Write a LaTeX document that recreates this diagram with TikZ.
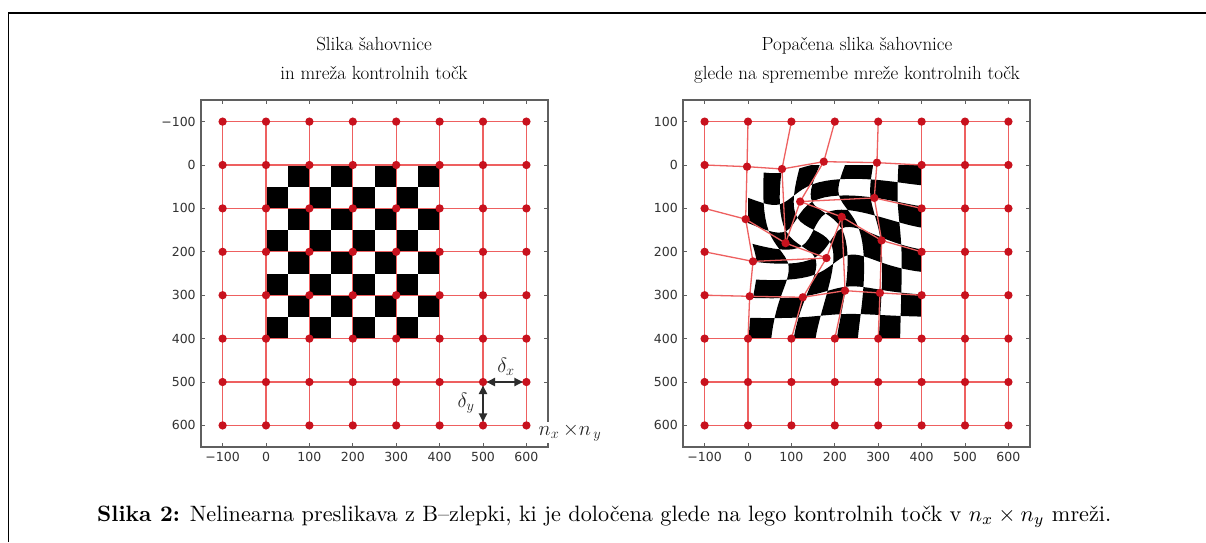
\documentclass[tikz,border=0pt]{standalone}
\usepackage{fontspec}
\newfontfamily\tickfont{DejaVu Sans}
\usetikzlibrary{arrows.meta}
\definecolor{gridred}{RGB}{238,96,96}
\definecolor{dotred}{RGB}{200,18,30}
\definecolor{axgray}{RGB}{95,95,95}
\definecolor{labgray}{RGB}{50,50,50}
\definecolor{arrgray}{RGB}{45,45,45}

\def\WT#1#2{\csname w@#1@#2\endcsname}
\def\BC#1{\csname bc@#1\endcsname}
\def\TT#1#2#3#4#5{+\WT{#2}{#4}*\WT{#3}{#5}*(\csname #1@\the\numexpr\BC{#2}+#4\relax @\the\numexpr\BC{#3}+#5\relax\endcsname)}
\def\DSrow#1#2#3#4{\TT{#1}{#2}{#3}{#4}0\TT{#1}{#2}{#3}{#4}1\TT{#1}{#2}{#3}{#4}2\TT{#1}{#2}{#3}{#4}3}
\def\DS#1#2#3{\DSrow{#1}{#2}{#3}0\DSrow{#1}{#2}{#3}1\DSrow{#1}{#2}{#3}2\DSrow{#1}{#2}{#3}3}
\def\setphi#1#2#3#4{\expandafter\gdef\csname px@#1@#2\endcsname{#3}\expandafter\gdef\csname py@#1@#2\endcsname{#4}}
\def\amp{1.4}

\begin{document}
\begin{tikzpicture}[x=1pt,y=-1pt,
  gridline/.style={draw=gridred, line width=1.3pt},
  dot/.style={circle, fill=dotred, inner sep=0pt, minimum size=8.3pt},
  axframe/.style={draw=axgray, line width=1.4pt},
  tickmark/.style={draw=axgray, line width=0.8pt},
  ticklabel/.style={font=\tickfont\fontsize{12.5}{14}\selectfont, text=labgray, inner sep=1pt},
  titletext/.style={font=\fontsize{19}{23}\selectfont, text=black, inner sep=0pt, anchor=base},
  deltaarrow/.style={draw=arrgray, line width=2pt, arrows={Triangle[length=8.5pt,width=8pt]-Triangle[length=8.5pt,width=8pt]}, shorten <=3.5pt, shorten >=3.5pt},
  mathlabel/.style={font=\fontsize{20}{24}\selectfont, text=black!85, inner sep=1pt},
]
\useasboundingbox (0,0) rectangle (1206,542);
\fill[white] (0,0) rectangle (1206,542);

% ---------- control point displacements ----------
\foreach \i in {0,...,7}{\foreach \j in {0,...,7}{%
  \expandafter\gdef\csname px@\i @\j\endcsname{0}%
  \expandafter\gdef\csname py@\i @\j\endcsname{0}}}
\setphi{1}{1}{-2.3}{3.8}
\setphi{2}{1}{-21.7}{9.2}
\setphi{3}{1}{-25.4}{-7.7}
\setphi{4}{1}{-2.9}{-5.4}
\setphi{1}{2}{-5.4}{24.8}
\setphi{2}{2}{-13.5}{80.0}
\setphi{3}{2}{-79.8}{-15.8}
\setphi{4}{2}{-9.0}{-24.2}
\setphi{1}{3}{11.5}{22.1}
\setphi{2}{3}{80.7}{14.4}
\setphi{3}{3}{15.9}{-80.5}
\setphi{4}{3}{7.8}{-26.2}
\setphi{1}{4}{3.8}{2.5}
\setphi{2}{4}{26.3}{4.8}
\setphi{3}{4}{23.6}{-10.5}
\setphi{4}{4}{4.0}{-5.2}

% ---------- cubic B-spline weights ----------
\foreach \ma in {0,...,32}{%
  \pgfmathtruncatemacro\myc{min(floor(\ma/8),3)}%
  \edef\myu{\fpeval{(\ma-8*\myc)/8}}%
  \expandafter\xdef\csname bc@\ma\endcsname{\myc}%
  \expandafter\xdef\csname w@\ma @0\endcsname{\fpeval{(1-\myu)^3/6}}%
  \expandafter\xdef\csname w@\ma @1\endcsname{\fpeval{(3*\myu^3-6*\myu^2+4)/6}}%
  \expandafter\xdef\csname w@\ma @2\endcsname{\fpeval{(-3*\myu^3+3*\myu^2+3*\myu+1)/6}}%
  \expandafter\xdef\csname w@\ma @3\endcsname{\fpeval{\myu^3/6}}%
}

% ---------- outer frame ----------
\draw[line width=1.5pt] (8.5,542) -- (8.5,13) -- (1206,13);

% ================= LEFT PLOT =================
\begin{scope}[shift={(266,165)}, scale=0.434]
  \foreach \i in {0,...,7}{\foreach \j in {0,...,7}{%
    \pgfmathtruncatemacro\myodd{mod(\i+\j,2)}%
    \ifnum\myodd=1 \fill[black] (50*\i,50*\j) rectangle ++(50,50);\fi}}
  \foreach \i in {0,...,7}{\foreach \j in {0,...,7}{%
    \coordinate (l-\i-\j) at ({100*\i-100},{100*\j-100});}}
  \foreach \i [evaluate=\i as \myni using int(\i+1)] in {0,...,6}{\foreach \j in {0,...,7}{%
    \draw[gridline] (l-\i-\j) -- (l-\myni-\j);}}
  \foreach \j [evaluate=\j as \mynj using int(\j+1)] in {0,...,6}{\foreach \i in {0,...,7}{%
    \draw[gridline] (l-\i-\j) -- (l-\i-\mynj);}}
  \foreach \i in {0,...,7}{\foreach \j in {0,...,7}{%
    \node[dot] (ld-\i-\j) at (l-\i-\j) {};}}
  \draw[axframe] (-150,-150) rectangle (650,650);
  \foreach \k in {0,...,7}{%
    \pgfmathtruncatemacro\myt{100*\k-100}%
    \draw[tickmark] (\myt,650) -- ++(0,-10);
    \draw[tickmark] (\myt,-150) -- ++(0,10);
    \draw[tickmark] (-150,\myt) -- ++(10,0);
    \draw[tickmark] (650,\myt) -- ++(-10,0);
    \coordinate (lbx-\k) at (\myt,650);
    \coordinate (lby-\k) at (-150,\myt);}
\end{scope}
\foreach \k/\s in {0/−100,1/0,2/100,3/200,4/300,5/400,6/500,7/600}{%
  \node[ticklabel, below=3.5pt] (lxl-\k) at (lbx-\k) {\s};
  \node[ticklabel, left=4pt] (lyl-\k) at (lby-\k) {\s};}

% delta arrows and labels
\draw[deltaarrow] (l-6-6) -- (l-7-6);
\draw[deltaarrow] (l-6-6) -- (l-6-7);
\node[mathlabel] (dx) at (506,367) {$\delta_x$};
\node[mathlabel] (dy) at (466,403) {$\delta_y$};
\node[mathlabel, fill=white, inner sep=1.5pt] (nxny) at (570,432) {$n_x\,{\times}n_{\,y}$};

% ================= RIGHT PLOT =================
\begin{scope}[shift={(748,165)}, scale=0.434]
  \foreach \ma in {0,...,32}{\foreach \mb in {0,...,32}{%
    \edef\myX{\fpeval{round(12.5*\ma+\amp*(0\DS{px}{\ma}{\mb}),2)}}%
    \edef\myY{\fpeval{round(12.5*\mb+\amp*(0\DS{py}{\ma}{\mb}),2)}}%
    \coordinate (w-\ma-\mb) at (\myX,\myY);}}
  \begin{scope}
    \clip (0,0) rectangle (400,400);
    \foreach \i in {0,...,7}{\foreach \j in {0,...,7}{%
      \pgfmathtruncatemacro\myodd{mod(\i+\j,2)}%
      \ifnum\myodd=1
        \pgfmathtruncatemacro\mya{4*\i}\pgfmathtruncatemacro\myb{4*\j}%
        \pgfmathtruncatemacro\myA{4*\i+4}\pgfmathtruncatemacro\myB{4*\j+4}%
        \fill[black] (w-\mya-\myb)
          \foreach \mt [evaluate=\mt as \mq using int(\mya+\mt)] in {1,2,3,4}{ -- (w-\mq-\myb)}
          \foreach \mt [evaluate=\mt as \mq using int(\myb+\mt)] in {1,2,3,4}{ -- (w-\myA-\mq)}
          \foreach \mt [evaluate=\mt as \mq using int(\myA-\mt)] in {1,2,3,4}{ -- (w-\mq-\myB)}
          \foreach \mt [evaluate=\mt as \mq using int(\myB-\mt)] in {1,2,3}{ -- (w-\mya-\mq)}
          -- cycle;
      \fi}}
  \end{scope}
  \foreach \i in {0,...,7}{\foreach \j in {0,...,7}{%
    \edef\myX{\fpeval{100*\i-100+\csname px@\i @\j\endcsname}}%
    \edef\myY{\fpeval{100*\j-100+\csname py@\i @\j\endcsname}}%
    \coordinate (r-\i-\j) at (\myX,\myY);}}
  \foreach \i [evaluate=\i as \myni using int(\i+1)] in {0,...,6}{\foreach \j in {0,...,7}{%
    \draw[gridline] (r-\i-\j) -- (r-\myni-\j);}}
  \foreach \j [evaluate=\j as \mynj using int(\j+1)] in {0,...,6}{\foreach \i in {0,...,7}{%
    \draw[gridline] (r-\i-\j) -- (r-\i-\mynj);}}
  \foreach \i in {0,...,7}{\foreach \j in {0,...,7}{%
    \node[dot] (rd-\i-\j) at (r-\i-\j) {};}}
  \draw[axframe] (-150,-150) rectangle (650,650);
  \foreach \k in {0,...,7}{%
    \pgfmathtruncatemacro\myt{100*\k-100}%
    \draw[tickmark] (\myt,650) -- ++(0,-10);
    \draw[tickmark] (\myt,-150) -- ++(0,10);
    \draw[tickmark] (-150,\myt) -- ++(10,0);
    \draw[tickmark] (650,\myt) -- ++(-10,0);
    \coordinate (rbx-\k) at (\myt,650);
    \coordinate (rby-\k) at (-150,\myt);}
\end{scope}
\foreach \k/\s in {0/−100,1/0,2/100,3/200,4/300,5/400,6/500,7/600}{%
  \node[ticklabel, below=3.5pt] (rxl-\k) at (rbx-\k) {\s};}
\foreach \k/\s in {0/100,1/0,2/100,3/200,4/300,5/400,6/500,7/600}{%
  \node[ticklabel, left=4pt] (ryl-\k) at (rby-\k) {\s};}

% ================= TITLES =================
\node[titletext] (lt1) at (374,50) {Slika šahovnice};
\node[titletext] (lt2) at (374,79) {in mreža kontrolnih točk};
\node[titletext] (rt1) at (857,50) {Popačena slika šahovnice};
\node[titletext] (rt2) at (857,79) {glede na spremembe mreže kontrolnih točk};

% ================= CAPTION =================
\node[anchor=base west, inner sep=0pt] (cap) at (97,521)
  {\resizebox{1014pt}{!}{\textbf{Slika 2:} Nelinearna preslikava z B--zlepki, ki je določena glede na lego kontrolnih točk v $n_x \times n_y$ mreži.}};
\end{tikzpicture}
\end{document}
